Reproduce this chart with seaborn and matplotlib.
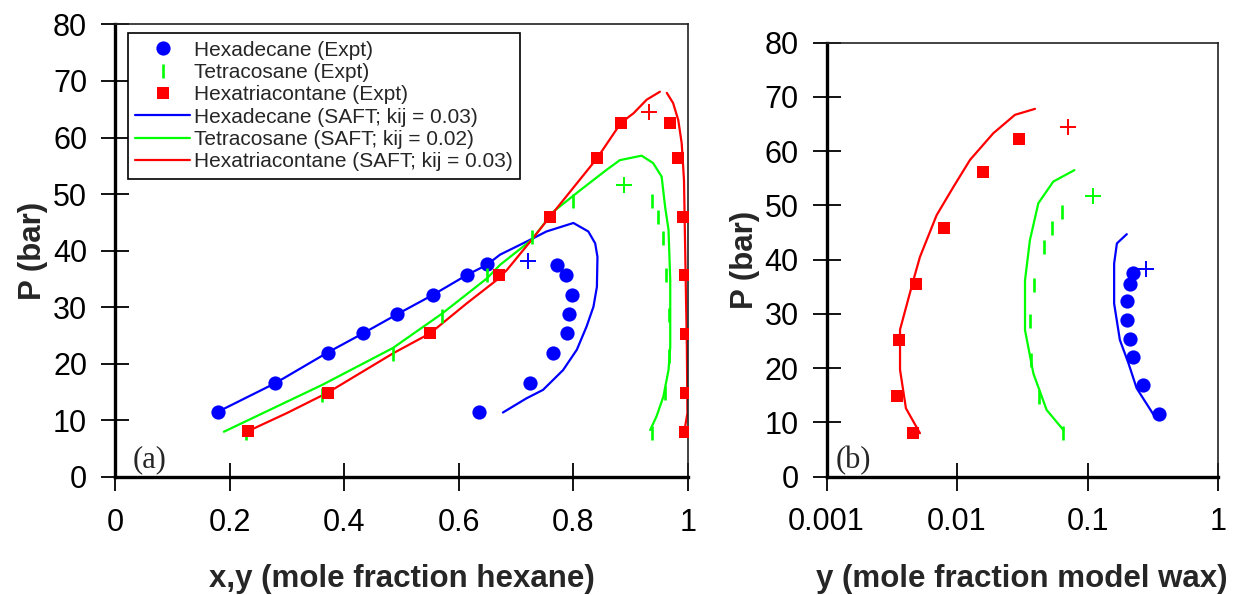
import numpy as np
import pandas as pd
import matplotlib
matplotlib.use("Agg")
import matplotlib.pyplot as plt
import seaborn as sns
from matplotlib.ticker import FixedLocator, FixedFormatter, NullLocator

# ---------------- Data: panel (a) ----------------
# Hexadecane experimental (liquid + vapour branches)
hexd_x = [0.179, 0.280, 0.371, 0.433, 0.493, 0.555, 0.614, 0.650,
          0.636, 0.725, 0.765, 0.789, 0.792, 0.798, 0.787, 0.771]
hexd_P = [11.5, 16.6, 22.0, 25.4, 28.8, 32.2, 35.7, 37.6,
          11.5, 16.7, 22.0, 25.4, 28.8, 32.2, 35.7, 37.5]
hexd_crit_x = [0.720]
hexd_crit_P = [38.1]

# Tetracosane experimental
tetra_x = [0.229, 0.362, 0.485, 0.571, 0.649, 0.727, 0.800,
           0.938, 0.948, 0.956, 0.962, 0.966, 0.966, 0.960, 0.937]
tetra_P = [7.7, 14.5, 21.7, 28.5, 35.7, 42.5, 48.7,
           48.7, 46.0, 42.2, 35.7, 28.6, 21.3, 14.8, 7.7]
tetra_crit_x = [0.888]
tetra_crit_P = [51.6]

# Hexatriacontane experimental
hext_x = [0.232, 0.371, 0.550, 0.670, 0.759, 0.841, 0.883,
          0.969, 0.983, 0.992, 0.994, 0.997, 0.997, 0.994]
hext_P = [8.1, 14.9, 25.4, 35.7, 46.0, 56.3, 62.6,
          62.6, 56.3, 46.0, 35.7, 25.3, 14.8, 8.0]
hext_crit_x = [0.932]
hext_crit_P = [64.5]

# SAFT curves
saft_hexd_x = [0.179, 0.280, 0.371, 0.433, 0.493, 0.555, 0.614, 0.649, 0.672, 0.724,
               0.753, 0.800, 0.826, 0.838, 0.842, 0.841, 0.835, 0.823, 0.806, 0.782,
               0.747, 0.718, 0.677]
saft_hexd_P = [11.5, 16.6, 22.0, 25.4, 28.8, 32.2, 35.7, 37.5, 39.3, 41.9,
               43.4, 44.9, 43.4, 41.3, 38.9, 33.6, 30.1, 26.6, 22.5, 18.9,
               15.4, 13.9, 11.4]

saft_tetra_x = [0.190, 0.362, 0.485, 0.571, 0.649, 0.672, 0.727, 0.765, 0.812, 0.858,
                0.881, 0.919, 0.939, 0.954, 0.960, 0.966, 0.969, 0.969, 0.966, 0.957,
                0.945, 0.934]
saft_tetra_P = [8.0, 16.3, 22.8, 28.9, 35.1, 37.5, 41.9, 46.9, 50.7, 54.3,
                56.0, 56.8, 55.5, 53.1, 47.8, 43.7, 34.8, 23.0, 18.9, 14.2,
                10.7, 8.3]

saft_hext_liq_x = [0.232, 0.300, 0.371, 0.486, 0.550, 0.614, 0.666, 0.684, 0.727, 0.759,
                   0.841, 0.883, 0.905, 0.928, 0.951]
saft_hext_liq_P = [8.1, 11.3, 14.9, 21.9, 25.4, 30.7, 34.8, 36.6, 41.9, 46.0,
                   56.3, 62.6, 64.3, 66.7, 68.1]
saft_hext_vap_x = [0.963, 0.974, 0.983, 0.989, 0.993, 0.995, 0.998, 0.999, 0.995]
saft_hext_vap_P = [67.9, 66.1, 63.1, 59.0, 52.5, 40.7, 23.0, 11.3, 8.9]

# ---------------- Data: panel (b) ----------------
b_hext_y = [0.00463, 0.00345, 0.00361, 0.00485, 0.00800, 0.01574, 0.0299]
b_hext_P = [8.1, 14.9, 25.2, 35.5, 45.8, 56.1, 62.3]
b_hext_crit_y = [0.0713]
b_hext_crit_P = [64.5]
b_saft_hext_y = [0.00520, 0.00406, 0.00366, 0.00366, 0.00463, 0.00520, 0.00698,
                 0.00938, 0.01259, 0.01896, 0.0278, 0.0396]
b_saft_hext_P = [8.0, 12.6, 19.7, 27.1, 36.2, 40.5, 48.2, 53.4, 58.4, 63.3, 66.7, 67.8]

b_tetra_y = [0.0653, 0.0428, 0.0367, 0.0362, 0.0391, 0.0467, 0.0537, 0.0638]
b_tetra_P = [8.0, 14.7, 21.5, 28.7, 35.3, 42.4, 45.8, 48.8]
b_tetra_crit_y = [0.1107]
b_tetra_crit_P = [51.8]
b_saft_tetra_y = [0.0653, 0.0486, 0.0385, 0.0332, 0.0332, 0.0362, 0.0420, 0.0547, 0.0793]
b_saft_tetra_P = [8.6, 12.3, 19.0, 27.0, 36.2, 43.6, 50.4, 54.4, 56.5]

b_hexd_y = [0.353, 0.268, 0.225, 0.212, 0.202, 0.200, 0.212, 0.225]
b_hexd_P = [11.5, 16.8, 22.1, 25.3, 28.9, 32.4, 35.6, 37.5]
b_hexd_crit_y = [0.281]
b_hexd_crit_P = [38.3]
b_saft_hexd_y = [0.319, 0.238, 0.206, 0.177, 0.160, 0.160, 0.168, 0.200]
b_saft_hexd_P = [11.5, 16.3, 20.9, 25.2, 31.9, 39.3, 43.0, 44.7]

# tick labels
a_xticks = [0, 0.2, 0.4, 0.6, 0.8, 1.0]
a_xticklabels = ["0", "0.2", "0.4", "0.6", "0.8", "1"]
b_xticks = [0.001, 0.01, 0.1, 1]
b_xticklabels = ["0.001", "0.01", "0.1", "1"]
yticks = [0, 10, 20, 30, 40, 50, 60, 70, 80]

legend_labels = ["Hexadecane (Expt)", "Tetracosane (Expt)", "Hexatriacontane (Expt)",
                 "Hexadecane (SAFT; kij = 0.03)", "Tetracosane (SAFT; kij = 0.02)",
                 "Hexatriacontane (SAFT; kij = 0.03)"]

BLUE = "#0000ff"
GREEN = "#00ff00"
RED = "#ff0000"

sns.set_theme(style="white")
plt.rcParams["font.family"] = ["Liberation Sans", "DejaVu Sans"]

fig = plt.figure(figsize=(12.34, 5.95), dpi=100)
axA = fig.add_axes([115 / 1234, 1 - 477 / 595, 573 / 1234, (477 - 24.4) / 595])
axB = fig.add_axes([826.5 / 1234, 1 - 476.6 / 595, (1218 - 826.5) / 1234, (476.6 - 42.7) / 595])

LW = 1.6
S_CIRC = 105
S_SQ = 85
S_BAR = 100
S_PLUS = 120


def line(ax, x, y, color, label=None):
    sns.lineplot(x=x, y=y, sort=False, estimator=None, color=color, lw=LW, ax=ax,
                 label=label, legend=False)


def pts(ax, x, y, color, marker, s, label=None):
    if marker in ("|", "+"):
        sns.scatterplot(x=x, y=y, marker=marker, s=s, color=color, edgecolor=color,
                        linewidth=1.9 if marker == "|" else 1.4, ax=ax, label=label,
                        legend=False, zorder=4)
    else:
        sns.scatterplot(x=x, y=y, marker=marker, s=s, color=color, linewidth=0,
                        ax=ax, label=label, legend=False, zorder=4)


# Panel (a)
line(axA, saft_hexd_x, saft_hexd_P, BLUE, legend_labels[3])
line(axA, saft_tetra_x, saft_tetra_P, GREEN, legend_labels[4])
line(axA, saft_hext_liq_x, saft_hext_liq_P, RED, legend_labels[5])
line(axA, saft_hext_vap_x, saft_hext_vap_P, RED)
pts(axA, hexd_x, hexd_P, BLUE, "o", S_CIRC, legend_labels[0])
pts(axA, tetra_x, tetra_P, GREEN, "|", S_BAR, legend_labels[1])
pts(axA, hext_x, hext_P, RED, "s", S_SQ, legend_labels[2])
pts(axA, hexd_crit_x, hexd_crit_P, BLUE, "+", S_PLUS)
pts(axA, tetra_crit_x, tetra_crit_P, GREEN, "+", S_PLUS)
pts(axA, hext_crit_x, hext_crit_P, RED, "+", S_PLUS)

# Panel (b)
line(axB, b_saft_hext_y, b_saft_hext_P, RED)
line(axB, b_saft_tetra_y, b_saft_tetra_P, GREEN)
line(axB, b_saft_hexd_y, b_saft_hexd_P, BLUE)
pts(axB, b_hext_y, b_hext_P, RED, "s", S_SQ)
pts(axB, b_tetra_y, b_tetra_P, GREEN, "|", S_BAR)
pts(axB, b_hexd_y, b_hexd_P, BLUE, "o", S_CIRC)
pts(axB, b_hext_crit_y, b_hext_crit_P, RED, "+", S_PLUS)
pts(axB, b_tetra_crit_y, b_tetra_crit_P, GREEN, "+", S_PLUS)
pts(axB, b_hexd_crit_y, b_hexd_crit_P, BLUE, "+", S_PLUS)

axB.set_xscale("log")

TICK_FS = 22
LABEL_FS = 22.5
for ax in (axA, axB):
    ax.set_ylim(0, 80)
    ax.yaxis.set_major_locator(FixedLocator(yticks))
    ax.set_yticklabels([str(v) for v in yticks])
    ax.tick_params(axis="both", which="major", direction="inout", length=20, width=1.3,
                   color="black", labelsize=TICK_FS, labelcolor="black")
    ax.tick_params(axis="y", pad=10, left=True)
    ax.tick_params(axis="x", pad=12, bottom=True)
    ax.tick_params(which="minor", length=0)
    for side in ("left", "bottom"):
        ax.spines[side].set_linewidth(2.4)
        ax.spines[side].set_color("black")
    for side in ("top", "right"):
        ax.spines[side].set_linewidth(1.2)
        ax.spines[side].set_color("#222222")
    ax.set_facecolor("white")
    ax.grid(False)

axA.set_ylabel("P (bar)", fontsize=LABEL_FS, fontweight="bold", labelpad=4)
axB.set_ylabel("P (bar)", fontsize=LABEL_FS, fontweight="bold", labelpad=3)

axA.set_xlim(0, 1)
axA.xaxis.set_major_locator(FixedLocator(a_xticks))
axA.set_xticklabels(a_xticklabels)
axA.set_xlabel("x,y (mole fraction hexane)", fontsize=LABEL_FS, fontweight="bold", labelpad=19)

axB.set_xlim(0.001, 1)
axB.xaxis.set_major_locator(FixedLocator(b_xticks))
axB.xaxis.set_minor_locator(NullLocator())
axB.set_xticklabels(b_xticklabels)
axB.set_xlabel("y (mole fraction model wax)", fontsize=LABEL_FS, fontweight="bold", labelpad=19)

axA.text(0.03, 3.0, "(a)", fontsize=22, family=["Liberation Serif", "DejaVu Serif"],
         va="center", ha="left")
axB.text(0.00118, 3.0, "(b)", fontsize=22, family=["Liberation Serif", "DejaVu Serif"],
         va="center", ha="left")

handles, labels = axA.get_legend_handles_labels()
hmap = dict(zip(labels, handles))
leg = axA.legend([hmap[l] for l in legend_labels], legend_labels, loc="upper left",
                 bbox_to_anchor=(0.023, 0.980), borderaxespad=0, fontsize=15,
                 frameon=True, fancybox=False, framealpha=1, edgecolor="black",
                 handlelength=2.6, handletextpad=0.2, labelspacing=0.16,
                 borderpad=0.35, scatteryoffsets=[0.5])
leg.get_frame().set_linewidth(1.2)

fig.savefig("out.png", dpi=100, facecolor="white")
